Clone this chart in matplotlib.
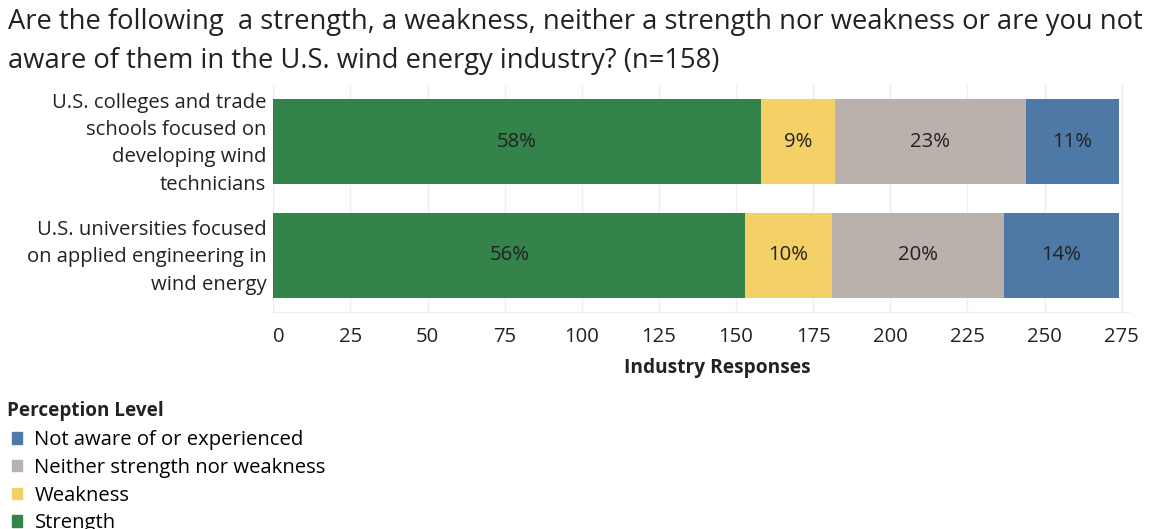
import matplotlib as mpl
import matplotlib.pyplot as plt
import matplotlib.transforms as mtransforms
from matplotlib.patches import Patch

# Response counts per perception level
categories = [
    "U.S. colleges and trade\nschools focused on\ndeveloping wind\ntechnicians",
    "U.S. universities focused\non applied engineering in\nwind energy",
]
levels = ["Strength", "Weakness", "Neither strength nor weakness", "Not aware of or experienced"]
strength = [158, 153]
weakness = [24, 28]
neither = [62, 56]
not_aware = [30, 37]
xticks = [0, 25, 50, 75, 100, 125, 150, 175, 200, 225, 250, 275]

colors = {
    "Strength": "#34834a",
    "Weakness": "#f4d166",
    "Neither strength nor weakness": "#bab0ac",
    "Not aware of or experienced": "#4e79a7",
}

FS = 14.6
plt.rcParams['font.family'] = ['Open Sans', 'DejaVu Sans']
W, H = 1149, 529
fig = plt.figure(figsize=(W / 100, H / 100), dpi=100)

# axes box in pixel terms (left, top, right, bottom)
l, t, r, b = 273.3, 85, 1128.8, 312
ax = fig.add_axes([l / W, 1 - b / H, (r - l) / W, (b - t) / H])

series = [strength, weakness, neither, not_aware]
totals = [sum(v) for v in zip(*series)]
ypos = list(range(len(categories)))
left = [0] * len(categories)
for name, vals in zip(levels, series):
    ax.barh(ypos, vals, left=left, height=0.75, color=colors[name], zorder=2)
    for i, v in enumerate(vals):
        pct = 100 * v / totals[i]
        ax.text(left[i] + v / 2, ypos[i], f"{pct:.0f}%", ha='center', va='center',
                fontsize=FS, color='#222222', zorder=3)
    left = [a + v for a, v in zip(left, vals)]

ax.set_xlim(0, 277.3)
ax.set_ylim(1.5, -0.5)
ax.set_xticks(xticks)
ax.set_yticks(ypos)
ax.set_yticklabels(categories, fontsize=FS, color='#222222', linespacing=1.48)
ax.tick_params(axis='x', length=0, pad=11, labelsize=FS, labelcolor='#222222')
ax.tick_params(axis='y', length=0, pad=5)
# nudge the "0" label right so it sits inside the plot area
lab0 = ax.xaxis.get_major_ticks()[0].label1
lab0.set_transform(lab0.get_transform() + mtransforms.ScaledTranslation(6 / 100, 0, fig.dpi_scale_trans))
# lift the category labels a little so they centre on the bars
for tk in ax.yaxis.get_major_ticks():
    tk.label1.set_transform(tk.label1.get_transform() + mtransforms.ScaledTranslation(0, 4 / 100, fig.dpi_scale_trans))
ax.grid(axis='x', color='#eeeeee', linewidth=1, zorder=0)
for s in ['top', 'right', 'left']:
    ax.spines[s].set_visible(False)
ax.spines['bottom'].set_color('#eeeeee')
ax.set_xlabel("Industry Responses", fontsize=13.8, fontweight='bold', color='#222222', labelpad=8)
ax.xaxis.label.set_x(0.519)

fig.text(8 / W, 1 - 41.5 / H,
         "Are the following  a strength, a weakness, neither a strength nor weakness or are you not\n"
         "aware of them in the U.S. wind energy industry? (n=158)",
         ha='left', va='center', fontsize=19.7, color='#222222', linespacing=1.5)

fig.text(7 / W, 1 - 411 / H, "Perception Level", ha='left', va='center',
         fontsize=13.6, fontweight='bold', color='#222222')
handles = [Patch(color=colors[n], label=n) for n in reversed(levels)]
leg = fig.legend(handles=handles, loc='upper left', bbox_to_anchor=(-2 / W, 1 - 416 / H),
                 frameon=False, fontsize=FS,
                 handlelength=0.5, handleheight=0.5, handletextpad=0.6,
                 labelspacing=0.38, borderpad=0.2)

fig.savefig("out.png", dpi=100)
